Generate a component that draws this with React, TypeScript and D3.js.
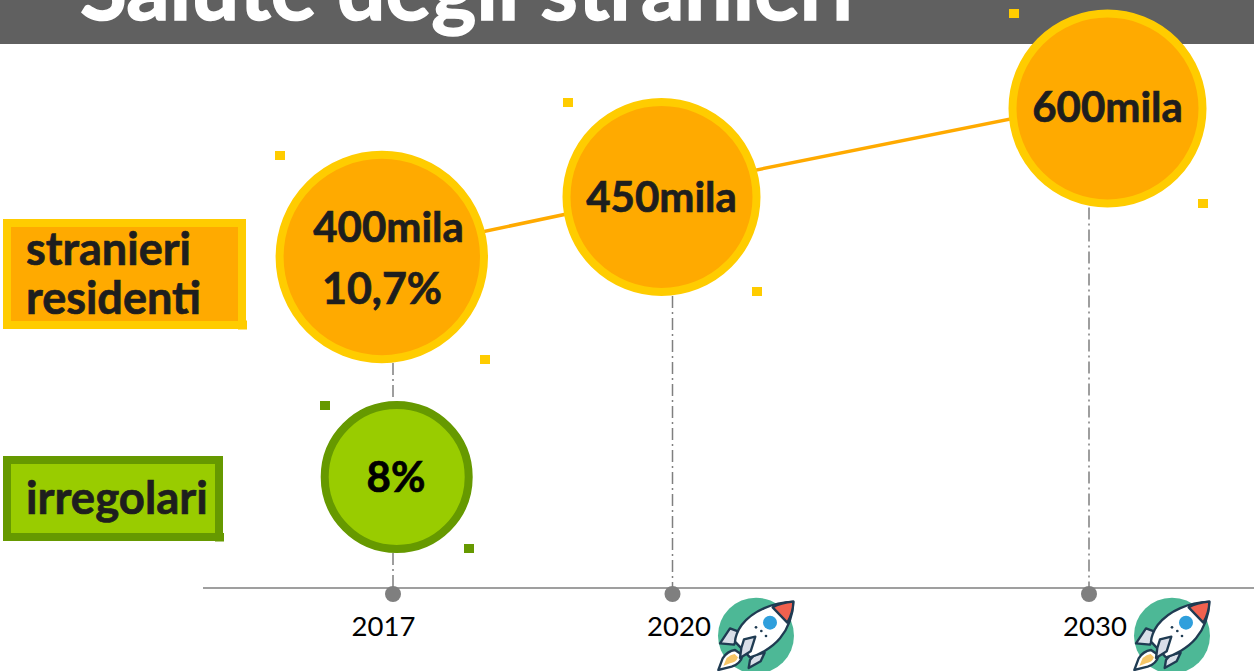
import React from "react";
import * as d3 from "d3";

const years = ["2017", "2020", "2030"];
const residents = [400, 450, 600];
const residentLabels = ["400mila", "450mila", "600mila"];
const residentShare = "10,7%";
const irregularShare = "8%";
const title = "Salute degli stranieri";

const YEAR_X = [393, 672.5, 1089];
const YEAR_LABEL_DX = [-9.5, 6.5, 6];
const LABEL_DY = [-15, 15, 13];
const FONT = "Lato, Carlito, sans-serif";
const ORANGE = "#FFAA00";
const YELLOW = "#FFCC00";
const GREEN = "#99CC00";
const DGREEN = "#669900";
const GRAY = "#7F7F7F";
const INK = "#1E1E1E";

const x = d3.scaleOrdinal<string, number>().domain(years).range(YEAR_X);
const y = d3.scaleLinear().domain([400, 450, 600]).range([257, 197, 108.5]);
const bubbleX = d3.scaleOrdinal<string, number>().domain(years).range([381.8, 661.5, 1107.5]);
const bubbleR = d3.scaleOrdinal<string, number>().domain(years).range([102.2, 95, 95]);
const line = d3.line<[number, number]>().x((d) => d[0]).y((d) => d[1]);

const confetti: [number, number, string][] = [
  [275, 151, YELLOW], [563, 98, YELLOW], [752, 287, YELLOW], [1198, 199, YELLOW],
  [1009, 9, YELLOW], [480, 355, YELLOW], [320, 401, DGREEN], [464, 544, DGREEN],
];

function Rocket({ dx }: { dx: number }) {
  const dark = "#1F3B52";
  return (
    <g transform={`translate(${700 + dx},580) scale(0.3333)`} strokeLinejoin="round">
      <circle cx={168} cy={167} r={114} fill="#4DB896" />
      <g stroke={dark} strokeWidth={7}>
        <path d="M90 145L122 157L102 194L60 190Z" fill="#D9DEE8" />
        <path d="M162 226L194 218L182 244L146 264L150 240Z" fill="#D9DEE8" />
        <path d="M55 270L68 235Q82 213 105 210L128 226Q122 252 95 260Z" fill="#FFFFFF" />
        <path d="M70 258L80 234Q92 224 104 222L114 232Q108 248 90 250Z" fill="#F6C667" stroke="none" />
        <path d="M280 65C220 68 160 90 125 135C112 152 105 175 105 185L150 232C175 225 215 205 240 175C268 140 279 100 280 65Z" fill="#FFFFFF" />
        <path d="M280 65C255 67 235 72 218 82L262 128C272 110 280 90 280 65Z" fill="#F0614F" />
        <path d="M132 178L166 170L152 214L120 234L124 204Z" fill="#D9DEE8" />
      </g>
      <circle cx={210} cy={128} r={21} fill="#2F9FDC" />
      <circle cx={168} cy={142} r={4} fill={dark} />
      <circle cx={184} cy={153} r={4} fill={dark} />
      <circle cx={198} cy={168} r={4} fill={dark} />
    </g>
  );
}

export default function App() {
  const segs: [number, number][][] = [
    [[bubbleX(years[0]), y(residents[0]) - 4], [bubbleX(years[1]), y(residents[1]) - 3]],
    [[bubbleX(years[1]), y(residents[1]) - 8], [bubbleX(years[2]), y(residents[2]) - 9]],
  ];
  const heavy = (c: string, w = 0.7) => ({ fill: c, stroke: c, strokeWidth: w, fontWeight: 700 });
  return (
    <svg width={1254} height={671} style={{ position: "absolute", left: 0, top: 0, fontFamily: FONT }}>
      <rect x={0} y={0} width={1254} height={671} fill="#fff" />
      <rect x={0} y={0} width={1254} height={44} fill="#606060" />
      <text x={80} y={20} fontSize={85.5} {...heavy("#fff", 1.5)}>{title}</text>

      <line x1={203} x2={1254} y1={588} y2={588} stroke={GRAY} strokeWidth={1.5} />
      {years.map((yr, i) => (
        <g key={yr}>
          {i === 0 ? (
            <path d={`M${x(yr)} 363V400M${x(yr)} 553V588`} stroke={GRAY} strokeWidth={1.5} strokeDasharray="12 4 2 4" fill="none" />
          ) : (
            <line x1={x(yr)} x2={x(yr)} y1={y(residents[i]) + 99} y2={588} stroke={GRAY} strokeWidth={1.5} strokeDasharray="12 4 2 4" />
          )}
          <circle cx={x(yr)} cy={594} r={8} fill={GRAY} />
          <text x={x(yr) + YEAR_LABEL_DX[i]} y={636} textAnchor="middle" fontSize={27.5} fill="#000">{yr}</text>
        </g>
      ))}

      {segs.map((s, i) => (
        <path key={i} d={line(s) ?? ""} stroke={ORANGE} strokeWidth={3.5} fill="none" />
      ))}

      {years.map((yr, i) => (
        <g key={yr}>
          <circle cx={bubbleX(yr)} cy={y(residents[i])} r={bubbleR(yr)} fill={ORANGE} stroke={YELLOW} strokeWidth={8} />
          <text
            x={i === 0 ? 388.5 : bubbleX(yr)}
            y={y(residents[i]) + LABEL_DY[i]}
            textAnchor="middle" fontSize={42} {...heavy(INK)}
          >{residentLabels[i]}</text>
        </g>
      ))}
      <text x={382} y={304} textAnchor="middle" fontSize={43} {...heavy(INK)}>{residentShare}</text>

      <circle cx={396.7} cy={477} r={72} fill={GREEN} stroke={DGREEN} strokeWidth={8} />
      <text x={396} y={492} textAnchor="middle" fontSize={42} {...heavy("#000")}>{irregularShare}</text>

      {confetti.map(([cx, cy, c], i) => (
        <rect key={i} x={cx} y={cy} width={10} height={9} fill={c} />
      ))}

      <rect x={7} y={223} width={235} height={102} fill={ORANGE} stroke={YELLOW} strokeWidth={8} />
      <rect x={238} y={320.5} width={9} height={9} fill={YELLOW} />
      <text x={26} y={265} fontSize={45} {...heavy(INK)}>stranieri</text>
      <text x={26} y={314} fontSize={45} {...heavy(INK)}>residenti</text>

      <rect x={7} y={460} width={212} height={77} fill={GREEN} stroke={DGREEN} strokeWidth={8} />
      <rect x={215} y={533} width={9} height={8.5} fill={DGREEN} />
      <text x={26} y={514} fontSize={45.5} {...heavy(INK)}>irregolari</text>

      <Rocket dx={0} />
      <Rocket dx={416} />
    </svg>
  );
}
